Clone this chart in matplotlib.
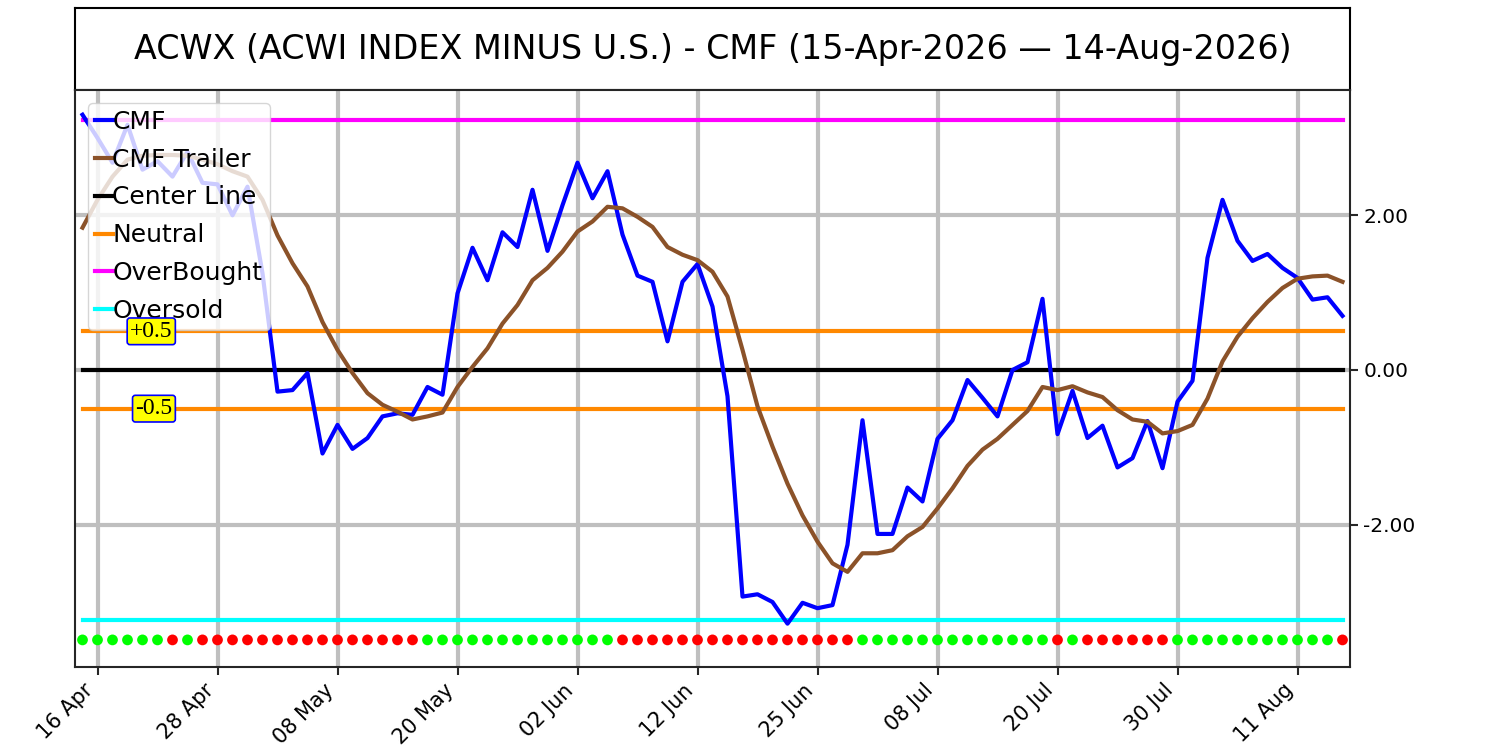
import numpy as np
import matplotlib
matplotlib.use("Agg")
import matplotlib.pyplot as plt

# CMF values, one per trading day (15 Apr 2026 .. 14 Aug 2026)
cmf = [3.30, 3.00, 2.68, 3.17, 2.59, 2.70, 2.50, 2.82, 2.42, 2.40, 2.00, 2.37, 1.25,
       -0.28, -0.26, -0.04, -1.08, -0.71, -1.02, -0.88, -0.60, -0.56, -0.58, -0.22, -0.32,
       0.99, 1.58, 1.16, 1.78, 1.59, 2.33, 1.54, 2.13, 2.68, 2.22, 2.57, 1.75, 1.22, 1.14,
       0.37, 1.14, 1.37, 0.82, -0.34,
       -2.93, -2.90, -3.00, -3.28, -3.01, -3.08, -3.04, -2.26, -0.65, -2.12, -2.12, -1.52,
       -1.70, -0.89, -0.65, -0.13, -0.36, -0.60, 0.00, 0.10,
       0.92, -0.83, -0.27, -0.88, -0.72, -1.26, -1.14, -0.66, -1.27, -0.41, -0.14, 1.45,
       2.20, 1.67, 1.41, 1.50, 1.32, 1.19, 0.91, 0.94, 0.70]

cmf_trailer = [1.84, 2.20, 2.50, 2.72, 2.77, 2.78, 2.78, 2.77, 2.72, 2.66, 2.57, 2.50, 2.20,
               1.74, 1.38, 1.08, 0.62, 0.26, -0.04, -0.30, -0.45, -0.54, -0.64, -0.60, -0.55,
               -0.22, 0.04, 0.28, 0.60, 0.84, 1.16, 1.32, 1.53, 1.79, 1.92, 2.11, 2.09, 1.98,
               1.85, 1.59, 1.49, 1.42, 1.27, 0.95,
               0.26, -0.47, -0.99, -1.47, -1.88, -2.22, -2.50, -2.61, -2.37, -2.37, -2.33,
               -2.15, -2.03, -1.79, -1.53, -1.24, -1.03, -0.89, -0.71, -0.53,
               -0.22, -0.26, -0.21, -0.29, -0.35, -0.52, -0.64, -0.67, -0.82, -0.79, -0.71,
               -0.37, 0.11, 0.43, 0.67, 0.88, 1.06, 1.18, 1.21, 1.22, 1.14]

# G = green dot, R = red dot
signal = list("GGGGGG" "R" "G" "RRRRRRRRRRRRRRR" "GGGGGGGGGGGGG" "RRRRRRRRRRRRRRRR"
              "GGGGGGGGGGGGG" "R" "G" "RRRRRR" "GGGGGGGGGGG" "R")

tick_labels = ["16 Apr", "28 Apr", "08 May", "20 May", "02 Jun", "12 Jun",
               "25 Jun", "08 Jul", "20 Jul", "30 Jul", "11 Aug"]

center = 0.0
neutral = 0.5
overbought = 3.23
oversold = -3.23
dot_level = -3.49

title = "ACWX (ACWI INDEX MINUS U.S.) - CMF (15-Apr-2026 \u2014 14-Aug-2026)"

n = len(cmf)
x = np.arange(n)

fig = plt.figure(figsize=(15, 7.5), dpi=100)
ax_t = fig.add_axes([0.05, 0.88, 0.85, 0.109])
ax = fig.add_axes([0.05, 0.1107, 0.85, 0.7693])

# title box
ax_t.set_xticks([])
ax_t.set_yticks([])
for s in ax_t.spines.values():
    s.set_linewidth(1.5)
    s.set_color("black")
ax_t.text(0.5, 0.5, title, ha="center", va="center", fontsize=24,
          transform=ax_t.transAxes)

# grid
ax.grid(True, color="#bfbfbf", linewidth=3, zorder=0)
ax.set_axisbelow(True)

ax.plot(x, cmf, color="blue", lw=3, label="CMF", zorder=3)
ax.plot(x, cmf_trailer, color="#8b5229", lw=3, label="CMF Trailer", zorder=3)
ax.plot(x, np.full(n, center), color="black", lw=3, label="Center Line", zorder=2)
ax.plot(x, np.full(n, neutral), color="#ff8800", lw=3, label="Neutral", zorder=2)
ax.plot(x, np.full(n, -neutral), color="#ff8800", lw=3, zorder=2)
ax.plot(x, np.full(n, overbought), color="magenta", lw=3, label="OverBought", zorder=2)
ax.plot(x, np.full(n, oversold), color="cyan", lw=3, label="Oversold", zorder=2)

dot_colors = ["#00ff00" if s == "G" else "#ff0000" for s in signal]
ax.scatter(x, np.full(n, dot_level), c=dot_colors, s=60, zorder=4, linewidths=0)

leg = ax.legend(loc="upper left", fontsize=18, handlelength=0.7, handletextpad=0.0,
                labelspacing=0.55, borderpad=0.3)

# level labels sit above the legend
box = dict(boxstyle="round,pad=0.12", facecolor="yellow", edgecolor="blue", lw=1.2)
ax.text(6, neutral, "+0.5", ha="right", va="center", fontsize=17,
        family="Liberation Serif", bbox=box, zorder=10)
ax.text(6, -neutral, "-0.5", ha="right", va="center", fontsize=17,
        family="Liberation Serif", bbox=box, zorder=10)

ax.set_xlim(-0.5, n - 0.5)
ax.set_ylim(-3.84, 3.62)

ax.set_xticks(np.arange(1, n, 8))
ax.set_xticklabels(tick_labels, rotation=45, ha="right", fontsize=15)
ax.set_yticks([-2, 0, 2])
ax.set_yticklabels(["-2.00", "0.00", "2.00"], fontsize=14.5)
ax.yaxis.tick_right()
ax.tick_params(axis="both", length=6, width=1.5, color="#262626")
for s in ax.spines.values():
    s.set_linewidth(1.5)
    s.set_color("#262626")

fig.savefig("out.png", dpi=100)
